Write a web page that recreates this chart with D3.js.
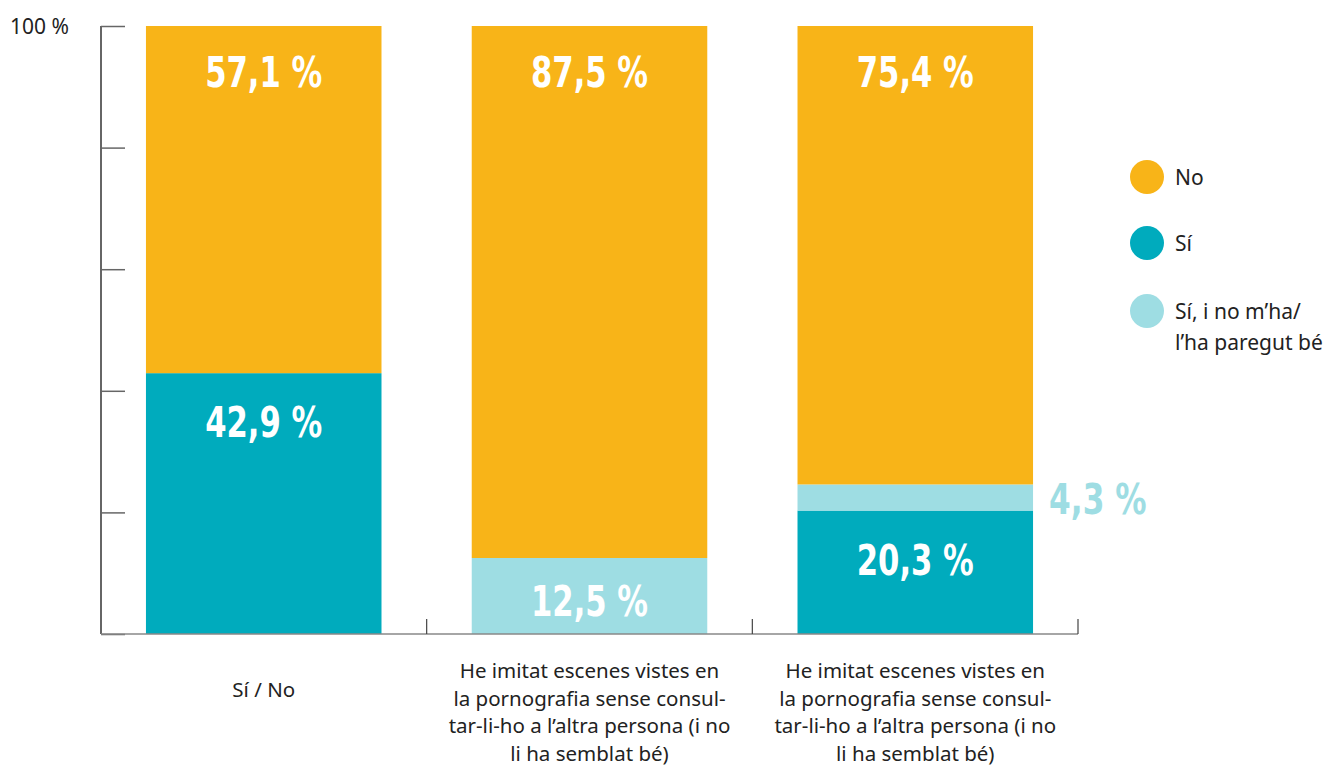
<!DOCTYPE html>
<html>
<head>
<meta charset="utf-8">
<script src="https://cdn.jsdelivr.net/npm/d3@7"></script>
<style>
  body { margin: 0; background: #fff; }
  svg { display: block; }
</style>
</head>
<body>
<div id="chart"></div>
<script>
// Data
const categories = [
  ["Sí / No"],
  ["He imitat escenes vistes en", "la pornografia sense consul-", "tar-li-ho a l’altra persona (i no", "li ha semblat bé)"],
  ["He imitat escenes vistes en", "la pornografia sense consul-", "tar-li-ho a l’altra persona (i no", "li ha semblat bé)"]
];
const seriesNames = ["Sí", "Sí, i no m’ha/l’ha paregut bé", "No"];
const legendLabels = [["No"], ["Sí"], ["Sí, i no m’ha/", "l’ha paregut bé"]];
const siValues = [42.9, 0, 20.3];
const siNoBeValues = [0, 12.5, 4.3];
const noValues = [57.1, 87.5, 75.4];
const yTicks = [0, 20, 40, 60, 80, 100];

const colors = { "Sí": "#00abbd", "Sí, i no m’ha/l’ha paregut bé": "#9edde3", "No": "#f8b418" };

const width = 1331, height = 769;
const margin = { left: 101, right: 253, top: 26, bottom: 135 };

const svg = d3.select("#chart").append("svg")
  .attr("width", width)
  .attr("height", height);

const x = d3.scaleBand()
  .domain(d3.range(categories.length))
  .range([margin.left, width - margin.right])
  .paddingInner(0.277)
  .paddingOuter(0.138);

const y = d3.scaleLinear()
  .domain([0, 100])
  .range([height - margin.bottom, margin.top]);

// Stacked data
const rows = categories.map((c, i) => ({
  idx: i,
  "Sí": siValues[i],
  "Sí, i no m’ha/l’ha paregut bé": siNoBeValues[i],
  "No": noValues[i]
}));
const stacked = d3.stack().keys(seriesNames)(rows);

svg.append("g")
  .selectAll("g")
  .data(stacked)
  .join("g")
  .attr("fill", d => colors[d.key])
  .selectAll("rect")
  .data(d => d.filter(s => s[1] - s[0] > 0))
  .join("rect")
  .attr("x", d => x(d.data.idx))
  .attr("width", x.bandwidth())
  .attr("y", d => y(d[1]))
  .attr("height", d => y(d[0]) - y(d[1]));

// Y axis
const yAxis = svg.append("g")
  .attr("transform", `translate(${margin.left},0)`)
  .call(d3.axisRight(y).tickValues(yTicks).tickSize(24).tickFormat(""));
yAxis.select(".domain").attr("d", `M0,${y(100)}V${y(0)}`).attr("stroke", "#333").attr("stroke-width", 1.5);
yAxis.selectAll(".tick line").attr("stroke", "#666").attr("stroke-width", 1.5);

const textFont = "'Noto Sans', 'Open Sans', sans-serif";

svg.append("text")
  .attr("x", 10)
  .attr("y", y(100) + 8)
  .attr("font-family", textFont)
  .attr("font-size", 21)
  .attr("fill", "#222")
  .text("100 %");

// X axis baseline + separators
const x0 = margin.left, x1 = width - margin.right;
svg.append("line")
  .attr("x1", x0).attr("x2", x1)
  .attr("y1", y(0)).attr("y2", y(0))
  .attr("stroke", "#888").attr("stroke-width", 1.5);

const seps = d3.range(1, categories.length + 1).map(i => x0 + i * (x1 - x0) / categories.length);
svg.append("g")
  .selectAll("line")
  .data(seps)
  .join("line")
  .attr("x1", d => d).attr("x2", d => d)
  .attr("y1", y(0) - 15).attr("y2", y(0))
  .attr("stroke", "#444").attr("stroke-width", 1.2);

// Value labels
const labels = [];
stacked.forEach(s => s.forEach(d => {
  const v = d[1] - d[0];
  if (v <= 0) return;
  labels.push({ key: s.key, idx: d.data.idx, v, top: d[1], bottom: d[0] });
}));

const fmt = v => d3.format(".1f")(v).replace(".", ",") + " %";

svg.append("g")
  .selectAll("text")
  .data(labels)
  .join("text")
  .attr("x", d => (d.v < 8) ? x(d.idx) + x.bandwidth() + 16 : x(d.idx) + x.bandwidth() / 2)
  .attr("y", d => {
    if (d.v < 8) return (y(d.top) + y(d.bottom)) / 2 + 16;
    if (d.key === "No") return y(d.top) + 61;
    if (d.v < 15) return y(d.top) + 58;
    return y(d.top) + 64;
  })
  .attr("text-anchor", d => d.v < 8 ? "start" : "middle")
  .attr("font-family", "'DejaVu Sans', sans-serif")
  .attr("font-weight", "bold")
  .attr("font-stretch", "condensed")
  .attr("font-size", 42)
  .attr("textLength", d => fmt(d.v).length * 19.5)
  .attr("lengthAdjust", "spacingAndGlyphs")
  .attr("fill", d => d.v < 8 ? colors[d.key] : "#fff")
  .text(d => fmt(d.v));

// Category labels
svg.append("g")
  .selectAll("text")
  .data(categories)
  .join("text")
  .attr("text-anchor", "middle")
  .attr("font-family", textFont)
  .attr("font-size", 20.5)
  .attr("fill", "#222")
  .attr("transform", (d, i) => `translate(${x(i) + x.bandwidth() / 2},${d.length === 1 ? 697 : 678})`)
  .selectAll("tspan")
  .data(d => d)
  .join("tspan")
  .attr("x", 0)
  .attr("dy", (d, i) => i === 0 ? 0 : 27.5)
  .text(d => d);

// Legend
const legendKeys = ["No", "Sí", "Sí, i no m’ha/l’ha paregut bé"];
const legend = svg.append("g")
  .selectAll("g")
  .data(legendKeys)
  .join("g")
  .attr("transform", (d, i) => `translate(1147,${[177, 243, 311][i]})`);

legend.append("circle")
  .attr("r", 17)
  .attr("fill", d => colors[d]);

legend.append("text")
  .attr("font-family", textFont)
  .attr("font-size", 21)
  .attr("fill", "#222")
  .attr("x", 28)
  .attr("y", 8)
  .selectAll("tspan")
  .data((d, i) => legendLabels[i])
  .join("tspan")
  .attr("x", 28)
  .attr("dy", (d, i) => i === 0 ? 0 : 31)
  .text(d => d);
</script>
</body>
</html>
